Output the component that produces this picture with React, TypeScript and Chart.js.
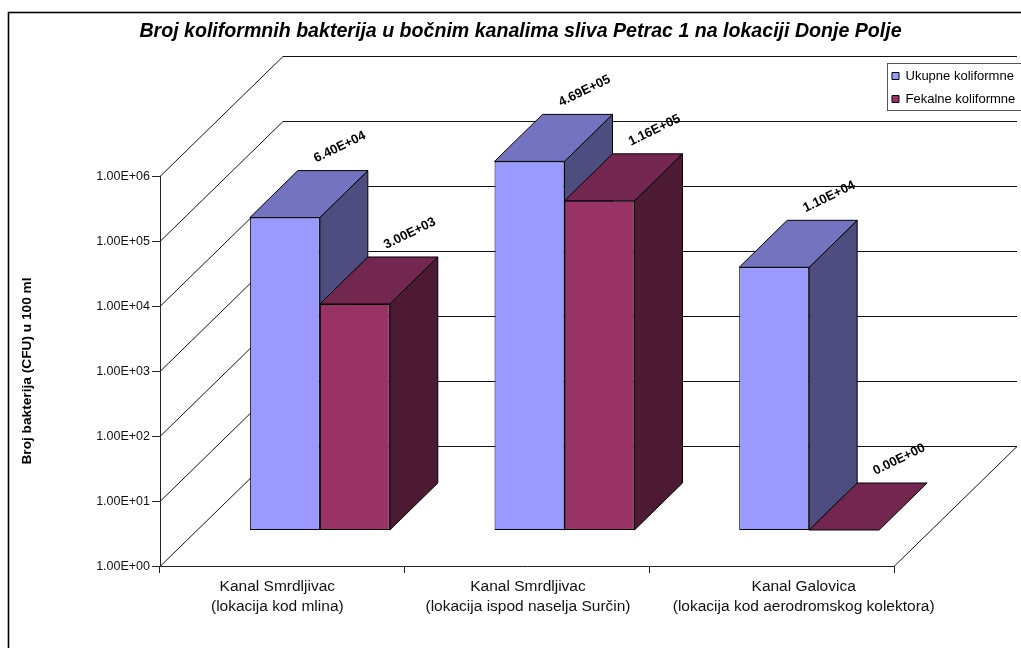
import React, { useEffect, useRef } from "react";
import { Chart, registerables } from "chart.js";

Chart.register(...registerables);

const chartTitle = "Broj koliformnih bakterija u bočnim kanalima sliva Petrac 1 na lokaciji Donje Polje";
const yAxisTitle = "Broj bakterija (CFU) u 100 ml";
const categories = [
  ["Kanal Smrdljivac", "(lokacija kod mlina)"],
  ["Kanal Smrdljivac", "(lokacija ispod naselja Surčin)"],
  ["Kanal Galovica", "(lokacija kod aerodromskog kolektora)"],
];
const ukupne = [6.4e4, 4.69e5, 1.1e4];
const fekalne = [3.0e3, 1.16e5, 0];
const yTicks = [1, 1e1, 1e2, 1e3, 1e4, 1e5, 1e6];

const FONT = '"Liberation Sans", Arial, sans-serif';
const WIDTH = 1021;
const HEIGHT = 648;
const WALL = { dx: 123, dy: -120, right: 1017 };
const BAR_SHIFT = { dx: 37.5, dy: -36 };
const BAR_DEPTH = { dx: 48, dy: -47 };
const LABEL_SHIFT = [-5, 1, 32];
const FACE_COLORS = [
  { front: "#9999FF", top: "#7373BF", side: "#4D4D80" },
  { front: "#993366", top: "#732650", side: "#4D1A33" },
];

const fmtSci = (v: number) => {
  const [m, e] = v.toExponential(2).split("e");
  const n = Math.abs(Number(e));
  return `${m}E${Number(e) < 0 ? "-" : "+"}${n < 10 ? "0" : ""}${n}`;
};

const poly = (ctx: CanvasRenderingContext2D, pts: number[][], fill: string) => {
  ctx.beginPath();
  pts.forEach(([x, y], i) => (i ? ctx.lineTo(x, y) : ctx.moveTo(x, y)));
  ctx.closePath();
  ctx.fillStyle = fill;
  ctx.fill();
  ctx.strokeStyle = "#000";
  ctx.lineWidth = 1;
  ctx.stroke();
};

const scene = {
  id: "scene3d",
  afterLayout(chart: any) {
    const tb = chart.titleBlock;
    tb.left = 0;
    tb.right = 1041;
    const lg = chart.legend;
    lg.left = 882;
    lg.right = 1100;
    lg.top = 59.5;
    lg.bottom = 140;
  },
  beforeDraw(chart: any) {
    const { ctx, scales, chartArea } = chart;
    scales.x.getLabelItems(chartArea).forEach((item: any, i: number) => {
      const base = scales.x.getPixelForTick(i);
      item.options.translation[0] = base + LABEL_SHIFT[i];
    });
    ctx.save();
    ctx.fillStyle = "#fff";
    ctx.fillRect(0, 0, WIDTH, HEIGHT);
    ctx.strokeStyle = "#000";
    ctx.lineWidth = 1.6;
    ctx.strokeRect(8.5, 12.5, 1100, 800);

    ctx.lineWidth = 1;
    ctx.strokeStyle = "#111";
    const left = chartArea.left;
    yTicks.forEach((t) => {
      const y = Math.round(scales.y.getPixelForValue(t)) + 0.5;
      ctx.beginPath();
      ctx.moveTo(left, y);
      ctx.lineTo(left + WALL.dx, y + WALL.dy);
      ctx.lineTo(WALL.right, y + WALL.dy);
      if (t === yTicks[0]) ctx.lineTo(chartArea.right, y);
      ctx.stroke();
    });

    ctx.fillStyle = "#fff";
    ctx.strokeStyle = "#555";
    ctx.fillRect(887, 63, 200, 47);
    ctx.strokeRect(887.5, 63.5, 200, 47);
    ctx.restore();
  },
  beforeDatasetsDraw(chart: any) {
    const { ctx } = chart;
    ctx.save();
    chart.data.datasets.forEach((_: any, di: number) => {
      const colors = FACE_COLORS[di];
      chart.getDatasetMeta(di).data.forEach((bar: any) => {
        const x0 = bar.x - bar.width / 2 + BAR_SHIFT.dx;
        const x1 = bar.x + bar.width / 2 + BAR_SHIFT.dx;
        const top = bar.y + BAR_SHIFT.dy;
        const bottom = bar.base + BAR_SHIFT.dy;
        const { dx, dy } = BAR_DEPTH;
        if (bottom - top > 0.5) {
          poly(ctx, [[x1, top], [x1 + dx, top + dy], [x1 + dx, bottom + dy], [x1, bottom]], colors.side);
        }
        poly(ctx, [[x0, top], [x0 + dx, top + dy], [x1 + dx, top + dy], [x1, top]], colors.top);
      });
    });
    ctx.restore();
    ctx.save();
    ctx.translate(BAR_SHIFT.dx, BAR_SHIFT.dy);
  },
  afterDatasetsDraw(chart: any) {
    const { ctx } = chart;
    ctx.restore();
    ctx.save();
    ctx.font = `bold 13px ${FONT}`;
    ctx.fillStyle = "#000";
    ctx.textAlign = "center";
    ctx.textBaseline = "middle";
    chart.data.datasets.forEach((ds: any, di: number) => {
      chart.getDatasetMeta(di).data.forEach((bar: any, i: number) => {
        const cx = bar.x + BAR_SHIFT.dx + BAR_DEPTH.dx + 7;
        const cy = bar.y + BAR_SHIFT.dy + BAR_DEPTH.dy - 23.5;
        ctx.save();
        ctx.translate(cx, cy);
        ctx.rotate((-26 * Math.PI) / 180);
        ctx.fillText(fmtSci(ds.data[i]), 0, 0);
        ctx.restore();
      });
    });
    ctx.restore();
  },
};

export default function App() {
  const ref = useRef<HTMLCanvasElement>(null);
  useEffect(() => {
    const barStyle = { borderColor: "#000", borderWidth: 1, borderSkipped: false, clip: false, categoryPercentage: 0.572, barPercentage: 1 };
    const chart = new Chart(ref.current!, {
      type: "bar",
      data: {
        labels: categories,
        datasets: [
          { label: "Ukupne koliformne", data: ukupne, backgroundColor: FACE_COLORS[0].front, ...barStyle },
          { label: "Fekalne koliformne", data: fekalne, backgroundColor: FACE_COLORS[1].front, ...barStyle },
        ],
      } as any,
      plugins: [scene],
      options: {
        responsive: false,
        animation: false,
        events: [],
        layout: { padding: { left: 10, right: WIDTH - 894, top: 0, bottom: 0 } },
        plugins: {
          tooltip: { enabled: false },
          title: {
            display: true,
            text: chartTitle,
            color: "#000",
            font: { family: FONT, size: 19.6, weight: "bold", style: "italic" },
            padding: { top: 20, bottom: 132.5 },
          },
          legend: {
            display: true,
            position: "chartArea",
            align: "start",
            labels: {
              color: "#000",
              boxWidth: 7,
              boxHeight: 7,
              padding: 10,
              font: { family: FONT, size: 13 },
            },
          },
        },
        scales: {
          x: {
            offset: true,
            afterFit: (s: any) => { s.height = HEIGHT - 566; },
            border: { color: "#222", width: 1 },
            grid: { display: true, drawOnChartArea: false, drawTicks: true, tickLength: 7, color: "#222", offset: true },
            ticks: { color: "#111", padding: 3, maxRotation: 0, autoSkip: false, font: { family: FONT, size: 15.5, lineHeight: 1.33 } },
          },
          y: {
            type: "logarithmic",
            min: 1,
            max: 1e6,
            afterFit: (s: any) => { s.width = 150; },
            afterBuildTicks: (s: any) => { s.ticks = yTicks.map((value) => ({ value })); },
            border: { color: "#222", width: 1 },
            grid: { display: true, drawOnChartArea: false, drawTicks: true, tickLength: 8, color: "#222" },
            title: { display: true, text: yAxisTitle, color: "#000", font: { family: FONT, size: 13.7, weight: "bold" }, padding: { top: 9, bottom: 0 } },
            ticks: { color: "#111", padding: 2, labelOffset: 1, autoSkip: false, font: { family: FONT, size: 12.5 }, callback: (v: any) => fmtSci(Number(v)) },
          },
        },
      } as any,
    });
    return () => chart.destroy();
  }, []);
  return (
    <canvas
      ref={ref}
      width={WIDTH}
      height={HEIGHT}
      style={{ position: "absolute", left: 0, top: 0, display: "block" }}
    />
  );
}
